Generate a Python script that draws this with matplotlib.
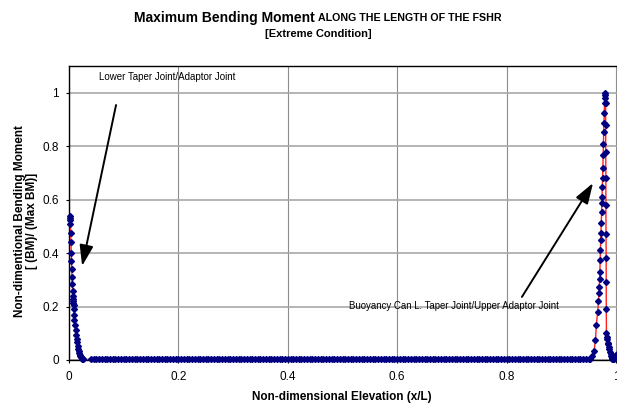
import matplotlib
matplotlib.use("Agg")
import matplotlib.pyplot as plt

plt.rcParams['font.family'] = ['Liberation Sans', 'DejaVu Sans']

# ---- data ----
left_x = [0.001, 0.0015, 0.002, 0.0025, 0.003, 0.0035, 0.004, 0.0045, 0.005, 0.0055,
          0.006, 0.0065, 0.007, 0.0072, 0.0075, 0.008, 0.0085, 0.009, 0.0095, 0.010,
          0.011, 0.012, 0.013, 0.014, 0.015, 0.016, 0.017, 0.018, 0.019, 0.020,
          0.021, 0.022, 0.023, 0.024, 0.025, 0.026]
left_y = [0.540, 0.532, 0.524, 0.510, 0.475, 0.440, 0.402, 0.370, 0.340, 0.310,
          0.285, 0.260, 0.240, 0.230, 0.222, 0.215, 0.205, 0.190, 0.170, 0.150,
          0.130, 0.112, 0.095, 0.080, 0.066, 0.054, 0.043, 0.034, 0.026, 0.019,
          0.014, 0.010, 0.007, 0.005, 0.003, 0.002]

flat_x = [0.040, 0.045, 0.050, 0.055, 0.060, 0.065, 0.070, 0.075, 0.080, 0.085,
          0.090, 0.095, 0.100, 0.105, 0.110, 0.115, 0.120, 0.125, 0.130, 0.135,
          0.140, 0.145, 0.150, 0.155, 0.160, 0.165, 0.170, 0.175, 0.180, 0.185,
          0.190, 0.195, 0.200, 0.205, 0.210, 0.215, 0.220, 0.225, 0.230, 0.235,
          0.240, 0.245, 0.250, 0.255, 0.260, 0.265, 0.270, 0.275, 0.280, 0.285,
          0.290, 0.295, 0.300, 0.305, 0.310, 0.315, 0.320, 0.325, 0.330, 0.335,
          0.340, 0.345, 0.350, 0.355, 0.360, 0.365, 0.370, 0.375, 0.380, 0.385,
          0.390, 0.395, 0.400, 0.405, 0.410, 0.415, 0.420, 0.425, 0.430, 0.435,
          0.440, 0.445, 0.450, 0.455, 0.460, 0.465, 0.470, 0.475, 0.480, 0.485,
          0.490, 0.495, 0.500, 0.505, 0.510, 0.515, 0.520, 0.525, 0.530, 0.535,
          0.540, 0.545, 0.550, 0.555, 0.560, 0.565, 0.570, 0.575, 0.580, 0.585,
          0.590, 0.595, 0.600, 0.605, 0.610, 0.615, 0.620, 0.625, 0.630, 0.635,
          0.640, 0.645, 0.650, 0.655, 0.660, 0.665, 0.670, 0.675, 0.680, 0.685,
          0.690, 0.695, 0.700, 0.705, 0.710, 0.715, 0.720, 0.725, 0.730, 0.735,
          0.740, 0.745, 0.750, 0.755, 0.760, 0.765, 0.770, 0.775, 0.780, 0.785,
          0.790, 0.795, 0.800, 0.805, 0.810, 0.815, 0.820, 0.825, 0.830, 0.835,
          0.840, 0.845, 0.850, 0.855, 0.860, 0.865, 0.870, 0.875, 0.880, 0.885,
          0.890, 0.895, 0.900, 0.905, 0.910, 0.915, 0.920, 0.925, 0.930, 0.935,
          0.940, 0.945, 0.950]
flat_y = [0.003, 0.003, 0.003, 0.003, 0.003, 0.003, 0.003, 0.003, 0.003, 0.003,
          0.003, 0.003, 0.003, 0.003, 0.003, 0.003, 0.003, 0.003, 0.003, 0.003,
          0.003, 0.003, 0.003, 0.003, 0.003, 0.003, 0.003, 0.003, 0.003, 0.003,
          0.003, 0.003, 0.003, 0.003, 0.003, 0.003, 0.003, 0.003, 0.003, 0.003,
          0.003, 0.003, 0.003, 0.003, 0.003, 0.003, 0.003, 0.003, 0.003, 0.003,
          0.003, 0.003, 0.003, 0.003, 0.003, 0.003, 0.003, 0.003, 0.003, 0.003,
          0.003, 0.003, 0.003, 0.003, 0.003, 0.003, 0.003, 0.003, 0.003, 0.003,
          0.003, 0.003, 0.003, 0.003, 0.003, 0.003, 0.003, 0.003, 0.003, 0.003,
          0.003, 0.003, 0.003, 0.003, 0.003, 0.003, 0.003, 0.003, 0.003, 0.003,
          0.003, 0.003, 0.003, 0.003, 0.003, 0.003, 0.003, 0.003, 0.003, 0.003,
          0.003, 0.003, 0.003, 0.003, 0.003, 0.003, 0.003, 0.003, 0.003, 0.003,
          0.003, 0.003, 0.003, 0.003, 0.003, 0.003, 0.003, 0.003, 0.003, 0.003,
          0.003, 0.003, 0.003, 0.003, 0.003, 0.003, 0.003, 0.003, 0.003, 0.003,
          0.003, 0.003, 0.003, 0.003, 0.003, 0.003, 0.003, 0.003, 0.003, 0.003,
          0.003, 0.003, 0.003, 0.003, 0.003, 0.003, 0.003, 0.003, 0.003, 0.003,
          0.003, 0.003, 0.003, 0.003, 0.003, 0.003, 0.003, 0.003, 0.003, 0.003,
          0.003, 0.003, 0.003, 0.003, 0.003, 0.003, 0.003, 0.003, 0.003, 0.003,
          0.003, 0.003, 0.003, 0.003, 0.003, 0.003, 0.003, 0.003, 0.003, 0.003,
          0.003, 0.003, 0.003]

right_x = [0.953, 0.957, 0.960, 0.9625, 0.964, 0.9665, 0.968, 0.969, 0.9695, 0.970,
           0.9705, 0.971, 0.9715, 0.972, 0.9725, 0.973, 0.9735, 0.974, 0.9745, 0.975,
           0.9755, 0.976, 0.9765, 0.977, 0.9775, 0.978, 0.9785, 0.979, 0.9795, 0.980,
           0.9805, 0.981, 0.981, 0.9812, 0.9815, 0.9815, 0.9818, 0.982, 0.982, 0.9822,
           0.9825, 0.983, 0.984, 0.985, 0.986, 0.987, 0.988, 0.989, 0.990, 0.991,
           0.992, 0.993, 0.9945, 0.996, 0.998, 1.000, 1.002]
right_y = [0.003, 0.015, 0.035, 0.075, 0.130, 0.180, 0.222, 0.250, 0.274, 0.303,
           0.331, 0.374, 0.411, 0.449, 0.474, 0.511, 0.555, 0.586, 0.611, 0.648,
           0.680, 0.717, 0.767, 0.810, 0.854, 0.885, 0.923, 0.960, 0.980, 1.000,
           0.990, 0.960, 0.880, 0.780, 0.680, 0.580, 0.470, 0.380, 0.290, 0.190,
           0.100, 0.087, 0.077, 0.065, 0.058, 0.048, 0.040, 0.030, 0.022, 0.015,
           0.008, 0.004, 0.002, 0.005, 0.012, 0.018, 0.024]

x_vals = left_x + flat_x + right_x
y_vals = left_y + flat_y + right_y

x_ticks = [0, 0.2, 0.4, 0.6, 0.8, 1.0]
x_tick_labels = ["0", "0.2", "0.4", "0.6", "0.8", "1"]
y_ticks = [0, 0.2, 0.4, 0.6, 0.8, 1.0]
y_tick_labels = ["0", "0.2", "0.4", "0.6", "0.8", "1"]

# ---- figure ----
W, H = 617, 407
fig = plt.figure(figsize=(W / 100, H / 100), dpi=100)
x_left, x_one, y_top, y_bot = 69, 616, 66, 360
xmax = 1.003
ax = fig.add_axes([x_left / W, (H - y_bot) / H,
                   (x_one - x_left) * xmax / W, (y_bot - y_top) / H])

ax.plot(x_vals, y_vals, color='#ff2020', lw=1.0, zorder=3, clip_on=False)
ax.plot(x_vals, y_vals, linestyle='none', marker='D', markersize=3.0,
        markerfacecolor='#000080', markeredgecolor='#000080', zorder=4, clip_on=False)

ax.set_xlim(0, xmax)
ax.set_ylim(0, 1.1)
ax.set_xticks(x_ticks)
ax.set_xticklabels(x_tick_labels)
ax.set_yticks(y_ticks)
ax.set_yticklabels(y_tick_labels)
ax.tick_params(axis='both', direction='out', length=2.3, width=0.8, labelsize=8.5,
               color='black')
ax.tick_params(axis='y', pad=5)
ax.tick_params(axis='x', pad=5.5)

ax.grid(True, axis='y', color='#a8a8a8', lw=1.2)
ax.grid(True, axis='x', color='#8c8c8c', lw=0.8)
ax.set_axisbelow(True)
for s in ['left', 'bottom', 'top']:
    ax.spines[s].set_color('black')
    ax.spines[s].set_linewidth(1.0)
ax.spines['right'].set_visible(False)

# titles: two font sizes on one line, centred as a whole
t1 = fig.text(0, 1 - 18 / H, "Maximum Bending Moment ", ha='left', va='center',
              fontsize=10, fontweight='bold')
t2 = fig.text(0, 1 - 18 / H, "ALONG THE LENGTH OF THE FSHR", ha='left', va='center',
              fontsize=7.7, fontweight='bold')
renderer = fig.canvas.get_renderer()
w1 = t1.get_window_extent(renderer).width
w2 = t2.get_window_extent(renderer).width
start = 318 - (w1 + w2) / 2
t1.set_x(start / W)
t2.set_x((start + w1) / W)
fig.text(318 / W, 1 - 34 / H, "[Extreme Condition]", ha='center', va='center',
         fontsize=8, fontweight='bold')

# axis labels
fig.text(342 / W, 1 - 397 / H, "Non-dimensional Elevation (x/L)", ha='center',
         va='center', fontsize=8.5, fontweight='bold')
fig.text(26 / W, 1 - 221 / H, "Non-dimentional Bending Moment\n[ (BM)/ (Max BM)]",
         ha='center', va='center', rotation=90, fontsize=8.5, fontweight='bold',
         multialignment='center', linespacing=1.1)

# annotations
ax.text(0.055, 1.059, "Lower Taper Joint/Adaptor Joint", fontsize=7,
        ha='left', va='center')
ax.annotate('', xy=(0.024, 0.352), xytext=(0.086, 0.954),
            arrowprops=dict(arrowstyle='-|>,head_length=0.9,head_width=0.3',
                            color='black', lw=1.4, mutation_scale=14,
                            shrinkA=0, shrinkB=0))
ax.text(0.512, 0.202, "Buoyancy Can L. Taper Joint/Upper Adaptor Joint", fontsize=6.9,
        ha='left', va='center')
ax.annotate('', xy=(0.958, 0.662), xytext=(0.828, 0.236),
            arrowprops=dict(arrowstyle='-|>,head_length=0.9,head_width=0.3',
                            color='black', lw=1.4, mutation_scale=14,
                            shrinkA=0, shrinkB=0))

fig.savefig("out.png", dpi=100)
